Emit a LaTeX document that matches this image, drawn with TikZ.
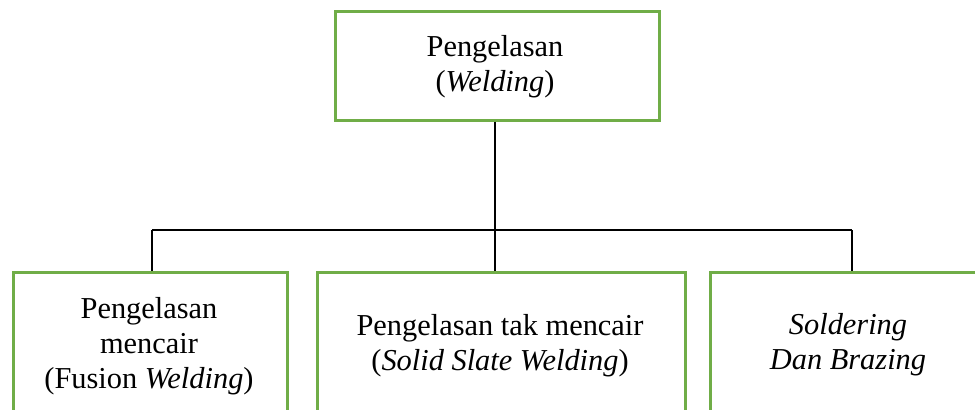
\documentclass[tikz,border=0pt]{standalone}
\usepackage{fontspec}
\setmainfont{Liberation Serif}
\definecolor{boxgreen}{HTML}{70AD47}
\begin{document}
\begin{tikzpicture}[x=0.5pt,y=-0.5pt,
  box/.style={draw=boxgreen,line width=1.25pt,fill=none,inner sep=0pt,anchor=north west},
  txt/.style={align=center,inner sep=0pt,font=\fontsize{15.2}{17.6}\selectfont},
  conn/.style={draw=black,line width=1pt}]
\useasboundingbox (0,0) rectangle (975,409);
\clip (0,0) rectangle (975,409);
% boxes
\node[box,minimum width=324pt*0.5,minimum height=109pt*0.5] (top) at (334,10) {};
\node[box,minimum width=274pt*0.5,minimum height=200pt*0.5] (b1) at (12,271) {};
\node[box,minimum width=368pt*0.5,minimum height=200pt*0.5] (b2) at (316,271) {};
\node[box,minimum width=286pt*0.5,minimum height=200pt*0.5] (b3) at (709,271) {};
% texts
\node[txt] (ttop) at (495,67) {Pengelasan\\(\textit{Welding})};
\node[txt] (t1) at (149,346) {Pengelasan\\mencair\\(Fusion \textit{Welding})};
\node[txt] (t2) at (500,346) {Pengelasan tak mencair\\(\textit{Solid Slate Welding})};
\node[txt] (t3) at (848,345) {\textit{Soldering}\\\textit{Dan Brazing}};
% connectors
\coordinate (j) at (495,230);
\coordinate (d1) at (152,230);
\coordinate (d3) at (852,230);
\draw[conn] (j |- top.south) -- (j);
\draw[conn] (d1) -- (d3);
\draw[conn] (d1) -- (d1 |- b1.north);
\draw[conn] (j) -- (j |- b2.north);
\draw[conn] (d3) -- (d3 |- b3.north);
\end{tikzpicture}
\end{document}
